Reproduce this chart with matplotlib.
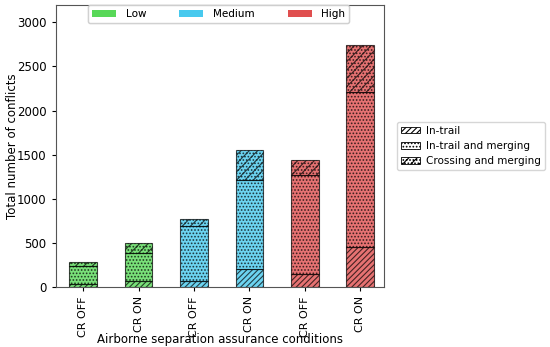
import matplotlib.pyplot as plt
from matplotlib.patches import Patch
import numpy as np

# Data
conditions = ['CR OFF', 'CR ON', 'CR OFF', 'CR ON', 'CR OFF', 'CR ON']
levels = ['Low', 'Low', 'Medium', 'Medium', 'High', 'High']
in_trail = [38, 75, 75, 205, 148, 460]
in_trail_merging = [207, 310, 620, 1012, 1125, 1750]
crossing_merging = [42, 114, 83, 336, 163, 535]

level_names = ['Low', 'Medium', 'High']
level_colors = {'Low': '#41d341', 'Medium': '#2ec2ec', 'High': '#dc3636'}
conflict_types = ['In-trail', 'In-trail and merging', 'Crossing and merging']
hatches = ['//////', '.....', '////.....']

plt.rcParams['hatch.linewidth'] = 0.8

fig = plt.figure(figsize=(5.5, 3.47), dpi=100)
ax = fig.add_axes([0.101, 0.172, 0.597, 0.815])

x = np.arange(len(conditions))
colors = [level_colors[l] for l in levels]
segments = [in_trail, in_trail_merging, crossing_merging]

bottom = np.zeros(len(x))
for seg, hatch in zip(segments, hatches):
    ax.bar(x, seg, width=0.5, bottom=bottom, color=colors, alpha=0.7,
           edgecolor='black', linewidth=0.8, hatch=hatch)
    bottom += np.array(seg)

ax.set_xticks(x)
ax.set_xticklabels(conditions, rotation=90, fontsize=8)
ax.set_xlim(-0.5, 5.43)
ax.set_ylim(0, 3200)
ax.set_yticks(np.arange(0, 3001, 500))
ax.tick_params(axis='y', labelsize=8.5)
ax.tick_params(length=3)
ax.set_ylabel('Total number of conflicts', fontsize=8.5)
ax.yaxis.set_label_coords(-0.111, 0.5)
ax.set_xlabel('Airborne separation assurance conditions', fontsize=8.5)
ax.xaxis.set_label_coords(0.5, -0.162)
for sp in ax.spines.values():
    sp.set_color('#555555')

# level legend (top), columns spread evenly
level_handles = [Patch(facecolor=level_colors[n], alpha=0.85, edgecolor='none')
                 for n in level_names]
leg1 = ax.legend(level_handles, level_names, loc='upper left', ncol=3,
                 mode='expand', fontsize=7.5, handlelength=2.3,
                 handleheight=0.6, handletextpad=0.9,
                 bbox_to_anchor=(0.099, 0.0, 0.795, 0.998), borderaxespad=0)
ax.add_artist(leg1)

# conflict type legend (right)
type_handles = [Patch(facecolor='white', edgecolor='black', hatch=h, linewidth=0.6)
                for h in hatches]
fig.legend(type_handles, conflict_types, loc='center left', fontsize=7.5,
           handlelength=1.8, handleheight=0.6, handletextpad=0.6,
           bbox_to_anchor=(392 / 550, 1 - 146 / 347))

fig.savefig('out.png', dpi=100)
